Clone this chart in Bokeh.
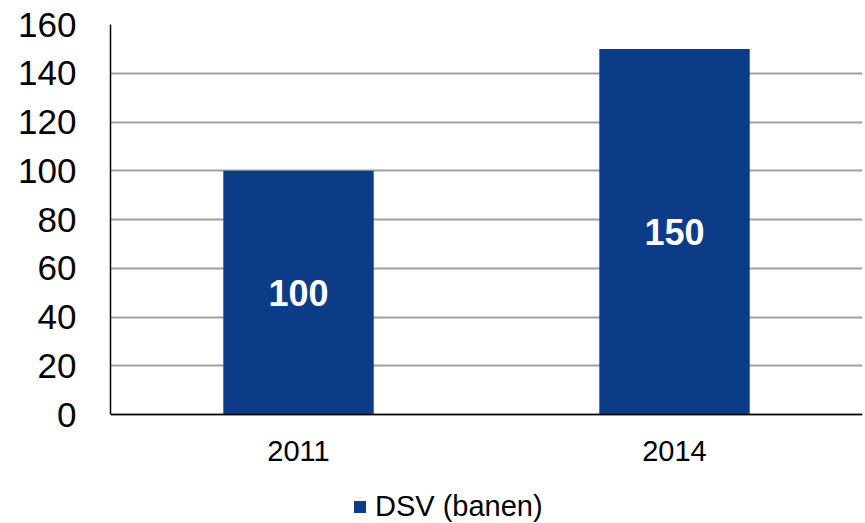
from bokeh.plotting import figure
from bokeh.models import ColumnDataSource, Legend, LegendItem, Range1d, FactorRange, LabelSet, Span
from bokeh.core.properties import value
from bokeh.embed import file_html
from bokeh.resources import INLINE

years = ["2011", "2014"]
values = [100, 150]
labels = ["100", "150"]
series_name = "DSV (banen)"
y_ticks = [0, 20, 40, 60, 80, 100, 120, 140, 160]

BAR = "#0c3b87"
FONT = "Liberation Sans"

W, H = 865, 523
TOP, LEFT, RIGHT = 24, 110, 3
AXIS_Y = 414  # pixel row of the value 0
px_per_unit = (AXIS_Y - TOP) / 160.0
y_start = -(H - AXIS_Y) / px_per_unit

src = ColumnDataSource(dict(x=years, top=values, mid=[v / 2 for v in values], lab=labels))

p = figure(width=W, height=H, output_backend="svg", toolbar_location=None,
           x_range=FactorRange(*years, range_padding=0), y_range=Range1d(y_start, 160),
           x_axis_location=None,
           min_border_left=LEFT, min_border_top=TOP, min_border_right=RIGHT, min_border_bottom=0)
p.outline_line_color = None
p.background_fill_color = "white"

p.ygrid.grid_line_color = "#a0a0a0"
p.ygrid.grid_line_width = 2
p.xgrid.grid_line_color = None

r = p.vbar(x="x", top="top", width=0.4, source=src, fill_color=BAR, line_color=None)

p.add_layout(Span(location=0, dimension="width", line_color="black", line_width=1.5))

p.add_layout(LabelSet(x="x", y="mid", text="lab", source=src, text_color="white",
                      text_font=value(FONT), text_font_size="36px", text_font_style="bold",
                      text_align="center", text_baseline="middle"))

# category labels under the baseline
p.add_layout(LabelSet(x="x", y=0, text="x", source=src, text_color="black", y_offset=-36,
                      text_font=value(FONT), text_font_size="29px",
                      text_align="center", text_baseline="middle"))

p.yaxis.ticker = y_ticks
p.yaxis.bounds = (0, 160)
p.yaxis.major_label_text_font = FONT
p.yaxis.major_label_text_font_size = "35px"
p.yaxis.major_label_text_color = "black"
p.yaxis.major_label_standoff = 28
p.yaxis.major_tick_line_color = None
p.yaxis.minor_tick_line_color = None
p.yaxis.axis_line_color = "black"
p.yaxis.axis_line_width = 1.5

legend = Legend(items=[LegendItem(label=series_name, renderers=[r])], location=(242, 0),
                orientation="horizontal", border_line_color=None, background_fill_alpha=0,
                label_text_font=FONT, label_text_font_size="29px", label_text_color="black",
                glyph_width=15, glyph_height=15,
                label_standoff=8, padding=4, margin=0)
p.add_layout(legend, "center")

open("out.html", "w").write(file_html(p, INLINE))
